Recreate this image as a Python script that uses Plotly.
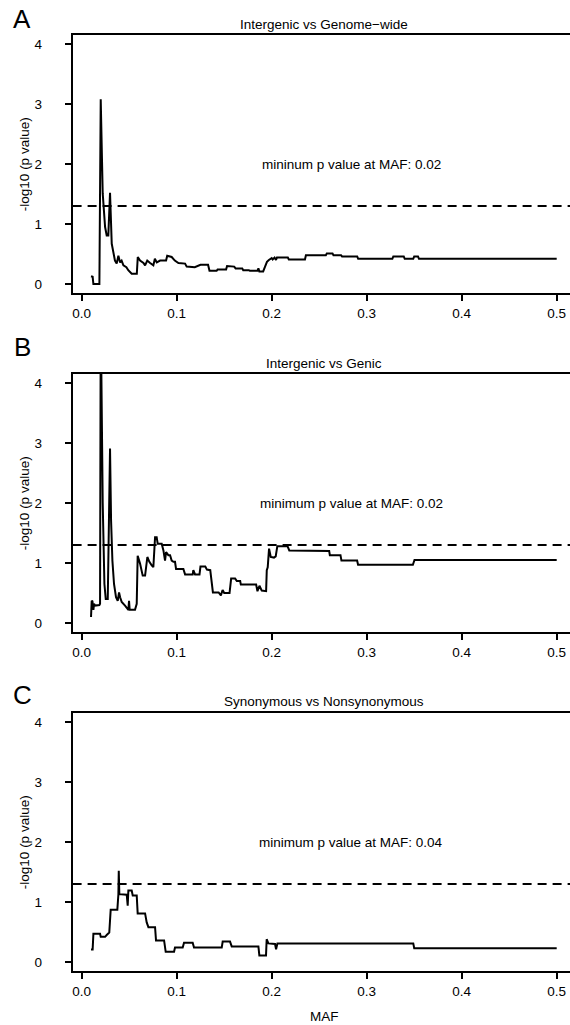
import plotly.graph_objects as go

# ---------------- data ----------------
A_maf = [0.0098, 0.0115, 0.0123, 0.0186, 0.0200, 0.0221, 0.0246, 0.0263, 0.0280, 0.0290,
         0.0298, 0.0316, 0.0333, 0.0350, 0.0368, 0.0386, 0.0404, 0.0420, 0.0439, 0.0470,
         0.0490, 0.0510, 0.0526, 0.0580, 0.0590, 0.0614, 0.0650, 0.0667, 0.0690, 0.0720,
         0.0754, 0.0770, 0.0790, 0.0825, 0.0888, 0.0900, 0.0947, 0.0980, 0.1018, 0.1088,
         0.1105, 0.1190, 0.1250, 0.1330, 0.1345, 0.1420, 0.1430, 0.1520, 0.1530, 0.1605,
         0.1620, 0.1690, 0.1700, 0.1760, 0.1770, 0.1850, 0.1860, 0.1870, 0.1910, 0.1930,
         0.1950, 0.1970, 0.2000, 0.2010, 0.2030, 0.2045, 0.2055, 0.2170, 0.2180, 0.2350,
         0.2360, 0.2570, 0.2580, 0.2640, 0.2650, 0.2730, 0.2740, 0.2900, 0.2910, 0.3270,
         0.3280, 0.3390, 0.3400, 0.3490, 0.3500, 0.3540, 0.3550, 0.5000]
A_logp = [0.13, 0.12, 0.00, 0.00, 3.08, 1.51, 0.95, 0.81, 0.81, 1.17,
          1.52, 0.67, 0.50, 0.39, 0.34, 0.47, 0.36, 0.39, 0.31, 0.28,
          0.23, 0.20, 0.17, 0.17, 0.45, 0.39, 0.35, 0.31, 0.39, 0.35,
          0.31, 0.42, 0.36, 0.39, 0.39, 0.47, 0.45, 0.39, 0.35, 0.34,
          0.29, 0.28, 0.32, 0.32, 0.22, 0.22, 0.24, 0.24, 0.30, 0.29,
          0.26, 0.26, 0.23, 0.23, 0.22, 0.22, 0.26, 0.21, 0.21, 0.29,
          0.37, 0.40, 0.43, 0.41, 0.44, 0.40, 0.44, 0.44, 0.41, 0.41,
          0.48, 0.48, 0.51, 0.51, 0.48, 0.48, 0.46, 0.46, 0.42, 0.42,
          0.46, 0.46, 0.42, 0.42, 0.46, 0.46, 0.42, 0.42]

B_maf = [0.0098, 0.0105, 0.0113, 0.0123, 0.0130, 0.0140, 0.0186, 0.0193, 0.0200, 0.0221,
         0.0239, 0.0253, 0.0274, 0.0288, 0.0298, 0.0309, 0.0323, 0.0340, 0.0361, 0.0379,
         0.0393, 0.0404, 0.0421, 0.0456, 0.0474, 0.0491, 0.0498, 0.0505, 0.0561, 0.0579,
         0.0589, 0.0614, 0.0642, 0.0667, 0.0691, 0.0712, 0.0737, 0.0754, 0.0772, 0.0789,
         0.0800, 0.0842, 0.0860, 0.0877, 0.0888, 0.0912, 0.0930, 0.0947, 0.0965, 0.0982,
         0.0993, 0.1070, 0.1088, 0.1168, 0.1175, 0.1193, 0.1240, 0.1250, 0.1301, 0.1318,
         0.1353, 0.1381, 0.1441, 0.1465, 0.1483, 0.1500, 0.1556, 0.1573, 0.1615, 0.1633,
         0.1668, 0.1675, 0.1836, 0.1850, 0.1871, 0.1895, 0.1941, 0.1948, 0.1958, 0.1972,
         0.1990, 0.2024, 0.2042, 0.2059, 0.2157, 0.2164, 0.2185, 0.2605, 0.2612, 0.2724,
         0.2734, 0.2899, 0.2909, 0.3486, 0.3503, 0.5000]
B_logp = [0.10, 0.37, 0.36, 0.22, 0.32, 0.29, 0.30, 0.32, 5.20, 2.00,
          0.65, 0.40, 0.40, 2.00, 2.91, 1.71, 1.04, 0.65, 0.43, 0.37,
          0.51, 0.43, 0.35, 0.29, 0.25, 0.22, 0.37, 0.22, 0.22, 0.32,
          1.12, 0.99, 0.79, 0.79, 1.10, 1.02, 0.96, 0.93, 1.43, 1.43,
          1.32, 1.32, 1.21, 1.04, 1.18, 1.13, 1.13, 1.04, 1.02, 1.02,
          0.90, 0.90, 0.81, 0.81, 0.88, 0.81, 0.81, 0.94, 0.94, 0.89,
          0.88, 0.51, 0.51, 0.46, 0.55, 0.50, 0.50, 0.74, 0.74, 0.70,
          0.70, 0.64, 0.64, 0.53, 0.62, 0.54, 0.53, 0.88, 0.93, 1.24,
          1.10, 1.09, 1.11, 1.28, 1.28, 1.29, 1.21, 1.20, 1.13, 1.13,
          1.04, 1.04, 0.97, 0.97, 1.05, 1.05]

C_maf = [0.0098, 0.0115, 0.0123, 0.0193, 0.0200, 0.0246, 0.0263, 0.0290, 0.0305, 0.0375,
         0.0386, 0.0390, 0.0396, 0.0474, 0.0484, 0.0491, 0.0526, 0.0537, 0.0579, 0.0589,
         0.0667, 0.0684, 0.0702, 0.0772, 0.0782, 0.0867, 0.0884, 0.0972, 0.0982, 0.1063,
         0.1077, 0.1168, 0.1182, 0.1474, 0.1484, 0.1561, 0.1579, 0.1860, 0.1870, 0.1940,
         0.1947, 0.1965, 0.2035, 0.2046, 0.2060, 0.3490, 0.3500, 0.5000]
C_logp = [0.21, 0.21, 0.47, 0.47, 0.42, 0.42, 0.45, 0.49, 0.87, 0.87,
          1.13, 1.52, 1.13, 1.12, 0.94, 1.19, 1.19, 1.11, 1.11, 0.81,
          0.81, 0.66, 0.58, 0.58, 0.36, 0.36, 0.17, 0.17, 0.24, 0.24,
          0.32, 0.32, 0.24, 0.24, 0.34, 0.34, 0.26, 0.26, 0.11, 0.11,
          0.38, 0.31, 0.30, 0.21, 0.31, 0.31, 0.23, 0.23]

assert len(A_maf) == len(A_logp) and len(B_maf) == len(B_logp) and len(C_maf) == len(C_logp)

panel_letters = ["A", "B", "C"]
panel_titles = ["Intergenic vs Genome\u2212wide", "Intergenic vs Genic", "Synonymous vs Nonsynonymous"]
panel_notes = ["mininum p value at MAF: 0.02", "minimum p value at MAF: 0.02", "minimum p value at MAF: 0.04"]
threshold = 1.301  # -log10(0.05)
x_ticks = [0.0, 0.1, 0.2, 0.3, 0.4, 0.5]
y_ticks = [0, 1, 2, 3, 4]

series = [(A_maf, A_logp), (B_maf, B_logp), (C_maf, C_logp)]

# ---------------- layout ----------------
W, H = 570, 1025
FONT = "Liberation Sans, Arial, Helvetica, sans-serif"
FS = 13.5

box_left = 72.6
box_tops = [35.0, 374.0, 713.0]
box_h = 258.3
letter_y = [19, 347, 695]

fig = go.Figure()
layout = dict(
    width=W, height=H, margin=dict(l=0, r=0, t=0, b=0),
    paper_bgcolor="white", plot_bgcolor="white", showlegend=False,
    font=dict(family=FONT, size=FS, color="black"),
)
annotations = []
shapes = []

for i, (xs, ys) in enumerate(series):
    k = "" if i == 0 else str(i + 1)
    top = box_tops[i]
    bot = top + box_h
    fig.add_trace(go.Scatter(x=xs, y=ys, mode="lines", xaxis="x" + k, yaxis="y" + k,
                             line=dict(color="black", width=2), hoverinfo="skip"))
    layout["xaxis" + k] = dict(
        domain=[box_left / W, 1.0], range=[-0.0096, 0.514], anchor="y" + k,
        showline=True, mirror=True, linecolor="black", linewidth=2,
        ticks="outside", ticklen=6, tickwidth=1.5, tickcolor="black",
        tickvals=x_ticks, tickformat=".1f", showgrid=False, zeroline=False,
        ticklabelstandoff=0, tickfont=dict(size=FS),
    )
    layout["yaxis" + k] = dict(
        domain=[(H - bot) / H, (H - top) / H], range=[-0.155, 4.15], anchor="x" + k,
        showline=True, linecolor="black", linewidth=2,
        ticks="outside", ticklen=6, tickwidth=1.5, tickcolor="black",
        tickvals=y_ticks, showgrid=False, zeroline=False,
        ticklabelstandoff=20, tickfont=dict(size=FS),
    )
    shapes.append(dict(type="line", xref="x" + k + " domain", yref="y" + k,
                       x0=0, x1=1, y0=threshold, y1=threshold,
                       line=dict(color="black", width=2, dash="9px,6px")))
    annotations.append(dict(text=panel_titles[i], xref="paper", yref="paper",
                            x=324 / W, y=(H - (top - 11)) / H, showarrow=False,
                            xanchor="center", yanchor="middle", font=dict(size=FS)))
    annotations.append(dict(text=panel_letters[i], xref="paper", yref="paper",
                            x=22 / W, y=(H - letter_y[i]) / H, showarrow=False,
                            xanchor="center", yanchor="middle", font=dict(size=26)))
    annotations.append(dict(text="-log10 (p value)", xref="paper", yref="paper",
                            x=24 / W, y=(H - (top + box_h / 2)) / H, showarrow=False,
                            textangle=-90, xanchor="center", yanchor="middle",
                            font=dict(size=FS)))
    annotations.append(dict(text=panel_notes[i], xref="x" + k, yref="y" + k,
                            x=0.2835, y=2.0, showarrow=False,
                            xanchor="center", yanchor="middle", font=dict(size=FS)))

annotations.append(dict(text="MAF", xref="paper", yref="paper",
                        x=324 / W, y=(H - 1016) / H, showarrow=False,
                        xanchor="center", yanchor="middle", font=dict(size=FS)))

layout["annotations"] = annotations
layout["shapes"] = shapes
fig.update_layout(**layout)
fig.write_html("out.html")
